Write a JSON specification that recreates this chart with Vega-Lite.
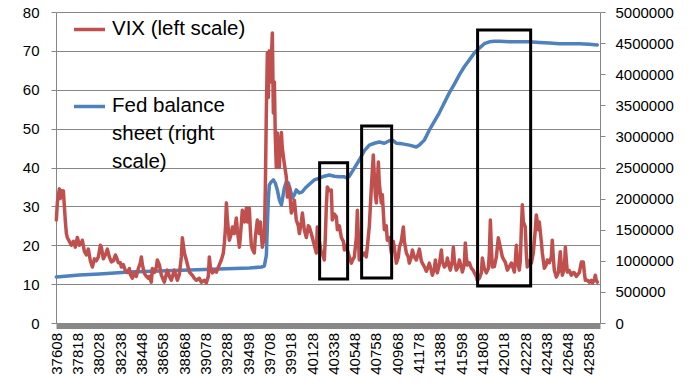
{
  "$schema": "https://vega.github.io/schema/vega-lite/v6.json",
  "width": 544,
  "height": 311,
  "autosize": {"type": "none"},
  "padding": {"left": 56, "top": 12, "right": 94, "bottom": 63},
  "background": "white",
  "config": {
    "view": {"stroke": null},
    "font": "Liberation Sans",
    "axis": {"labelFont": "Liberation Sans", "labelFontSize": 15, "labelColor": "#000", "domainColor": "#868686", "tickColor": "#868686", "gridColor": "#868686", "gridWidth": 1, "gridOpacity": 1, "title": null, "labelOverlap": false}
  },
  "datasets": {
    "vix": [
      {"d":37608,"v":26.5},{"d":37618,"v":31},{"d":37628,"v":33},{"d":37638,"v":34.5},{"d":37647,"v":32},{"d":37657,"v":34},{"d":37667,"v":33},{"d":37677,"v":34},{"d":37687,"v":30},{"d":37697,"v":26},{"d":37707,"v":23},{"d":37716,"v":22},{"d":37736,"v":21},{"d":37756,"v":20},{"d":37776,"v":21},{"d":37795,"v":19.5},{"d":37815,"v":22},{"d":37835,"v":20},{"d":37854,"v":20.5},{"d":37864,"v":21.3},{"d":37884,"v":18.5},{"d":37904,"v":17.5},{"d":37923,"v":19},{"d":37943,"v":16},{"d":37963,"v":14.4},{"d":37983,"v":16.5},{"d":38002,"v":16},{"d":38022,"v":17},{"d":38042,"v":20},{"d":38052,"v":19.5},{"d":38071,"v":16.5},{"d":38091,"v":17.5},{"d":38111,"v":19},{"d":38130,"v":17},{"d":38150,"v":15.7},{"d":38170,"v":16},{"d":38190,"v":17.5},{"d":38199,"v":17},{"d":38219,"v":15.5},{"d":38239,"v":15.5},{"d":38249,"v":14.4},{"d":38268,"v":15},{"d":38288,"v":13.5},{"d":38308,"v":13},{"d":38328,"v":14},{"d":38337,"v":12.5},{"d":38357,"v":11.5},{"d":38377,"v":13},{"d":38396,"v":12},{"d":38416,"v":14},{"d":38436,"v":15.5},{"d":38446,"v":17},{"d":38456,"v":15},{"d":38475,"v":12.8},{"d":38495,"v":12},{"d":38515,"v":11.5},{"d":38525,"v":12},{"d":38544,"v":10.5},{"d":38554,"v":14},{"d":38574,"v":13},{"d":38594,"v":14.4},{"d":38603,"v":16.2},{"d":38623,"v":15},{"d":38643,"v":12.3},{"d":38672,"v":10.5},{"d":38702,"v":13.6},{"d":38722,"v":12},{"d":38741,"v":11},{"d":38771,"v":13.6},{"d":38801,"v":11},{"d":38820,"v":12.5},{"d":38840,"v":17},{"d":38850,"v":21.9},{"d":38870,"v":18},{"d":38889,"v":16.2},{"d":38919,"v":13.1},{"d":38948,"v":12.3},{"d":38968,"v":11.5},{"d":38988,"v":11},{"d":39017,"v":11.5},{"d":39037,"v":10.5},{"d":39067,"v":11},{"d":39086,"v":10.3},{"d":39106,"v":12},{"d":39116,"v":17},{"d":39126,"v":14.4},{"d":39146,"v":12.9},{"d":39165,"v":13.5},{"d":39185,"v":13.1},{"d":39215,"v":15},{"d":39234,"v":16.2},{"d":39254,"v":18},{"d":39264,"v":20.6},{"d":39274,"v":24},{"d":39284,"v":30.9},{"d":39293,"v":27},{"d":39303,"v":24},{"d":39313,"v":21.3},{"d":39333,"v":23},{"d":39343,"v":24.7},{"d":39362,"v":23},{"d":39382,"v":27},{"d":39392,"v":24},{"d":39412,"v":19.5},{"d":39421,"v":22},{"d":39441,"v":29},{"d":39461,"v":26},{"d":39481,"v":29.6},{"d":39491,"v":26},{"d":39510,"v":29.5},{"d":39520,"v":24},{"d":39530,"v":20},{"d":39540,"v":19},{"d":39559,"v":18},{"d":39569,"v":22},{"d":39589,"v":26.5},{"d":39609,"v":23},{"d":39619,"v":26},{"d":39638,"v":19.5},{"d":39648,"v":21},{"d":39658,"v":21},{"d":39668,"v":35},{"d":39678,"v":55},{"d":39688,"v":69.5},{"d":39697,"v":58},{"d":39707,"v":70},{"d":39717,"v":62},{"d":39727,"v":68},{"d":39737,"v":74.6},{"d":39747,"v":54},{"d":39757,"v":62},{"d":39766,"v":48},{"d":39776,"v":40},{"d":39786,"v":48.9},{"d":39796,"v":42},{"d":39806,"v":40},{"d":39816,"v":46},{"d":39826,"v":49},{"d":39835,"v":45},{"d":39855,"v":41},{"d":39875,"v":37.5},{"d":39885,"v":32.4},{"d":39904,"v":35},{"d":39924,"v":28.3},{"d":39944,"v":30},{"d":39954,"v":31.6},{"d":39973,"v":26.5},{"d":39993,"v":25},{"d":40003,"v":23},{"d":40023,"v":26},{"d":40033,"v":28.3},{"d":40052,"v":24},{"d":40072,"v":22},{"d":40092,"v":25},{"d":40102,"v":24.7},{"d":40121,"v":23},{"d":40131,"v":22},{"d":40151,"v":20},{"d":40171,"v":18},{"d":40180,"v":24.7},{"d":40200,"v":21},{"d":40220,"v":18},{"d":40230,"v":18},{"d":40249,"v":16.2},{"d":40259,"v":22},{"d":40269,"v":30},{"d":40279,"v":35},{"d":40299,"v":34},{"d":40318,"v":34.2},{"d":40328,"v":26.5},{"d":40348,"v":28},{"d":40368,"v":27.3},{"d":40378,"v":24},{"d":40397,"v":25},{"d":40417,"v":22},{"d":40437,"v":21},{"d":40447,"v":18.8},{"d":40466,"v":20},{"d":40476,"v":18.8},{"d":40496,"v":17},{"d":40516,"v":15.4},{"d":40525,"v":16},{"d":40545,"v":17},{"d":40565,"v":22},{"d":40575,"v":29},{"d":40585,"v":22},{"d":40594,"v":16.2},{"d":40614,"v":17},{"d":40644,"v":18},{"d":40663,"v":17},{"d":40673,"v":19.5},{"d":40693,"v":25},{"d":40713,"v":35},{"d":40732,"v":43.2},{"d":40742,"v":38},{"d":40752,"v":33},{"d":40762,"v":30.9},{"d":40772,"v":36},{"d":40782,"v":41.4},{"d":40791,"v":36},{"d":40811,"v":30.9},{"d":40821,"v":33},{"d":40841,"v":24},{"d":40860,"v":25},{"d":40870,"v":21.3},{"d":40890,"v":22},{"d":40910,"v":18},{"d":40929,"v":21},{"d":40939,"v":19.5},{"d":40959,"v":15.4},{"d":40979,"v":17},{"d":40989,"v":19.5},{"d":41008,"v":21},{"d":41028,"v":24.7},{"d":41038,"v":21},{"d":41058,"v":18},{"d":41077,"v":17},{"d":41087,"v":15.4},{"d":41107,"v":17},{"d":41117,"v":18.8},{"d":41136,"v":17},{"d":41156,"v":16.2},{"d":41176,"v":18},{"d":41186,"v":19},{"d":41205,"v":16},{"d":41215,"v":15.4},{"d":41235,"v":14.5},{"d":41255,"v":13.3},{"d":41274,"v":14.5},{"d":41284,"v":15.4},{"d":41304,"v":13.5},{"d":41314,"v":12.3},{"d":41334,"v":14},{"d":41344,"v":16.2},{"d":41353,"v":14},{"d":41363,"v":12.9},{"d":41383,"v":15},{"d":41403,"v":18.8},{"d":41412,"v":16},{"d":41432,"v":14.4},{"d":41452,"v":15},{"d":41462,"v":16.7},{"d":41481,"v":14.5},{"d":41491,"v":13.6},{"d":41511,"v":16},{"d":41521,"v":19.5},{"d":41531,"v":16},{"d":41550,"v":13.6},{"d":41570,"v":14.5},{"d":41580,"v":16.2},{"d":41600,"v":14.5},{"d":41610,"v":13.1},{"d":41629,"v":15},{"d":41639,"v":20.6},{"d":41649,"v":17},{"d":41659,"v":14.9},{"d":41679,"v":15.5},{"d":41698,"v":14.1},{"d":41718,"v":13.5},{"d":41728,"v":12.9},{"d":41748,"v":12},{"d":41757,"v":11},{"d":41777,"v":11.5},{"d":41797,"v":12.9},{"d":41807,"v":16.7},{"d":41826,"v":14},{"d":41846,"v":12.9},{"d":41866,"v":14},{"d":41876,"v":18},{"d":41886,"v":26.5},{"d":41895,"v":20},{"d":41905,"v":14.4},{"d":41925,"v":14.5},{"d":41945,"v":17},{"d":41964,"v":21.9},{"d":41984,"v":19.5},{"d":42004,"v":17},{"d":42024,"v":16},{"d":42033,"v":15.7},{"d":42053,"v":13.6},{"d":42073,"v":14.5},{"d":42093,"v":15.4},{"d":42112,"v":14},{"d":42122,"v":13.1},{"d":42132,"v":16},{"d":42142,"v":20},{"d":42152,"v":16},{"d":42171,"v":13.6},{"d":42181,"v":16},{"d":42191,"v":24},{"d":42201,"v":30.4},{"d":42211,"v":26},{"d":42230,"v":24.7},{"d":42240,"v":18},{"d":42250,"v":14.4},{"d":42270,"v":16},{"d":42290,"v":15.4},{"d":42309,"v":18},{"d":42329,"v":24},{"d":42339,"v":27.8},{"d":42359,"v":24},{"d":42368,"v":26},{"d":42388,"v":21},{"d":42398,"v":18},{"d":42418,"v":14.1},{"d":42437,"v":15},{"d":42447,"v":16.2},{"d":42467,"v":15.5},{"d":42487,"v":17},{"d":42496,"v":21.3},{"d":42506,"v":17},{"d":42516,"v":13.6},{"d":42536,"v":11.8},{"d":42556,"v":13},{"d":42575,"v":18.3},{"d":42585,"v":15},{"d":42595,"v":12.3},{"d":42615,"v":14},{"d":42625,"v":19.5},{"d":42635,"v":16},{"d":42645,"v":13.1},{"d":42664,"v":13.5},{"d":42684,"v":12.3},{"d":42704,"v":13},{"d":42714,"v":12.9},{"d":42733,"v":12},{"d":42743,"v":12.3},{"d":42763,"v":13},{"d":42783,"v":15.7},{"d":42802,"v":15.7},{"d":42812,"v":13},{"d":42822,"v":11},{"d":42842,"v":11},{"d":42861,"v":10.5},{"d":42881,"v":11},{"d":42891,"v":10.3},{"d":42910,"v":11},{"d":42920,"v":12.3},{"d":42930,"v":11},{"d":42940,"v":10.5}
    ],
    "fed": [
      {"d":37608,"f":740000},{"d":37835,"f":772000},{"d":38032,"f":788000},{"d":38328,"f":820000},{"d":38623,"f":836000},{"d":38919,"f":852000},{"d":39215,"f":868000},{"d":39510,"f":884000},{"d":39629,"f":900000},{"d":39658,"f":916000},{"d":39678,"f":1090000},{"d":39688,"f":1580000},{"d":39697,"f":1980000},{"d":39707,"f":2220000},{"d":39727,"f":2270000},{"d":39747,"f":2300000},{"d":39766,"f":2250000},{"d":39786,"f":2140000},{"d":39806,"f":1980000},{"d":39826,"f":1900000},{"d":39835,"f":1980000},{"d":39855,"f":2170000},{"d":39875,"f":2270000},{"d":39895,"f":2250000},{"d":39914,"f":2140000},{"d":39934,"f":2010000},{"d":39954,"f":2060000},{"d":39973,"f":2140000},{"d":40003,"f":2090000},{"d":40033,"f":2110000},{"d":40062,"f":2170000},{"d":40102,"f":2230000},{"d":40151,"f":2300000},{"d":40200,"f":2330000},{"d":40249,"f":2360000},{"d":40299,"f":2380000},{"d":40348,"f":2360000},{"d":40397,"f":2350000},{"d":40447,"f":2350000},{"d":40476,"f":2330000},{"d":40496,"f":2360000},{"d":40545,"f":2490000},{"d":40594,"f":2620000},{"d":40644,"f":2770000},{"d":40693,"f":2860000},{"d":40742,"f":2890000},{"d":40791,"f":2910000},{"d":40841,"f":2890000},{"d":40890,"f":2930000},{"d":40920,"f":2940000},{"d":40959,"f":2890000},{"d":41018,"f":2880000},{"d":41087,"f":2860000},{"d":41156,"f":2830000},{"d":41186,"f":2860000},{"d":41235,"f":2940000},{"d":41284,"f":3100000},{"d":41334,"f":3240000},{"d":41383,"f":3380000},{"d":41432,"f":3540000},{"d":41481,"f":3700000},{"d":41531,"f":3840000},{"d":41580,"f":3990000},{"d":41629,"f":4120000},{"d":41679,"f":4230000},{"d":41728,"f":4340000},{"d":41777,"f":4420000},{"d":41826,"f":4490000},{"d":41876,"f":4520000},{"d":41925,"f":4530000},{"d":41974,"f":4530000},{"d":42073,"f":4520000},{"d":42171,"f":4520000},{"d":42270,"f":4520000},{"d":42368,"f":4510000},{"d":42467,"f":4500000},{"d":42566,"f":4490000},{"d":42664,"f":4490000},{"d":42763,"f":4490000},{"d":42861,"f":4480000},{"d":42940,"f":4470000}
    ],
    "boxes": [
      {"x1": 40203, "x2": 40479, "y1": 11.3, "y2": 41.2},
      {"x1": 40617, "x2": 40913, "y1": 11.6, "y2": 50.7},
      {"x1": 41760, "x2": 42283, "y1": 9.5, "y2": 75.4}
    ]
  },
  "layer": [
    {
      "data": {"name": "fed"},
      "mark": {"type": "line", "strokeWidth": 3.5, "strokeJoin": "round", "strokeCap": "round"},
      "encoding": {
        "x": {
          "field": "d", "type": "quantitative",
          "scale": {"domain": [37604.5, 42966.5], "nice": false, "zero": false},
          "axis": {
            "values": [37608,37818,38028,38238,38448,38658,38868,39078,39288,39498,39708,39918,40128,40338,40548,40758,40968,41178,41388,41598,41808,42018,42228,42438,42648,42858],
            "format": "d", "labelAngle": -90, "labelFlush": false, "labelOverlap": false,
            "ticks": false, "domainWidth": 6, "domainColor": "#888888", "offset": 2.5,
            "labelPadding": 7, "grid": false, "title": null
          }
        },
        "y": {
          "field": "f", "type": "quantitative",
          "scale": {"domain": [0, 5000000], "nice": false},
          "axis": {
            "orient": "right", "values": [0,500000,1000000,1500000,2000000,2500000,3000000,3500000,4000000,4500000,5000000],
            "format": "d", "grid": false, "tickSize": 5, "labelPadding": 10, "labelOverlap": false, "title": null
          }
        },
        "color": {
          "datum": "Fed balance sheet (right scale)",
          "scale": {"domain": ["VIX (left scale)", "Fed balance sheet (right scale)"], "range": ["#C0504D", "#4F81BD"]},
          "legend": {
            "orient": "none", "legendX": 16, "legendY": 0, "title": null,
            "symbolType": "stroke", "symbolSize": 961, "symbolStrokeWidth": 3.5,
            "labelFont": "Liberation Sans", "labelFontSize": 20.5, "labelColor": "#000",
            "labelOffset": 5, "rowPadding": 50, "padding": 0, "labelLimit": 0,
            "labelBaseline": "top",
            "labelExpr": "datum.label == 'Fed balance sheet (right scale)' ? ['Fed balance', 'sheet (right', 'scale)'] : datum.label",
            "encode": {"labels": {"update": {"lineHeight": {"value": 28}, "dy": {"value": -11}}}}
          }
        }
      }
    },
    {
      "layer": [
        {
          "data": {"name": "vix"},
          "mark": {"type": "line", "strokeWidth": 3.5, "strokeJoin": "round", "strokeCap": "round"},
          "encoding": {
            "x": {
              "field": "d", "type": "quantitative",
              "axis": {
                "values": [37608,37818,38028,38238,38448,38658,38868,39078,39288,39498,39708,39918,40128,40338,40548,40758,40968,41178,41388,41598,41808,42018,42228,42438,42648,42858],
                "format": "d", "labelAngle": -90, "labelFlush": false, "labelOverlap": false,
                "ticks": false, "domainWidth": 6, "domainColor": "#888888", "offset": 2.5,
                "labelPadding": 7, "grid": false, "title": null
              }
            },
            "y": {
              "field": "v", "type": "quantitative",
              "scale": {"domain": [0, 80], "nice": false},
              "axis": {"orient": "left", "values": [0,10,20,30,40,50,60,70,80], "grid": true, "tickSize": 5, "labelPadding": 12, "labelOverlap": false, "title": null}
            },
            "color": {"datum": "VIX (left scale)"}
          }
        },
        {
          "data": {"name": "boxes"},
          "mark": {"type": "rect", "fill": "transparent", "stroke": "#000000", "strokeWidth": 3},
          "encoding": {
            "x": {
              "field": "x1", "type": "quantitative",
              "axis": {
                "values": [37608,37818,38028,38238,38448,38658,38868,39078,39288,39498,39708,39918,40128,40338,40548,40758,40968,41178,41388,41598,41808,42018,42228,42438,42648,42858],
                "format": "d", "labelAngle": -90, "labelFlush": false, "labelOverlap": false,
                "ticks": false, "domainWidth": 6, "domainColor": "#888888", "offset": 2.5,
                "labelPadding": 7, "grid": false, "title": null
              }
            },
            "x2": {"field": "x2"},
            "y": {
              "field": "y1", "type": "quantitative",
              "axis": {"orient": "left", "values": [0,10,20,30,40,50,60,70,80], "grid": true, "tickSize": 5, "labelPadding": 12, "labelOverlap": false, "title": null}
            },
            "y2": {"field": "y2"}
          }
        }
      ]
    }
  ],
  "resolve": {"scale": {"y": "independent"}}
}
